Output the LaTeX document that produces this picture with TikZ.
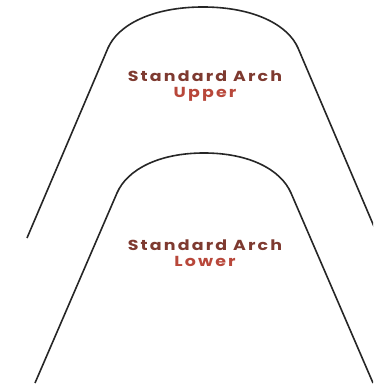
\documentclass[tikz,border=0pt]{standalone}
\usepackage{fontspec}
\newfontfamily\archfont{Poppins}[LetterSpace=15,FakeStretch=1.2]
\definecolor{titlecol}{HTML}{7E3A30}
\definecolor{subcol}{HTML}{B8473A}
\begin{document}
\begin{tikzpicture}[x=1pt,y=-1pt,
  archline/.style={line width=1.6pt,black!85,line join=round},
  titletext/.style={font=\archfont\bfseries\fontsize{14.5}{16}\selectfont,text=titlecol,anchor=base,inner sep=0pt},
  subtext/.style={font=\archfont\bfseries\fontsize{14.5}{16}\selectfont,text=subcol,anchor=base,inner sep=0pt}]
\useasboundingbox (0,0) rectangle (373,387);
\clip (0,0) rectangle (373,387);
% upper arch
\draw[archline] (27,238) -- (108,48) .. controls (118,25) and (152,7) .. (203,7)
  .. controls (254,7) and (288,25) .. (298,48) -- (384,250);
% lower arch
\draw[archline] (35,383) -- (117,193) .. controls (127,170) and (158,153) .. (204,153)
  .. controls (250,153) and (281,170) .. (291,193) -- (373,383);
\node[titletext] (ut) at (205,82) {Standard Arch};
\node[subtext] (us) at (205,98) {Upper};
\node[titletext] (lt) at (205,250) {Standard Arch};
\node[subtext] (ls) at (205,266) {Lower};
\end{tikzpicture}
\end{document}
